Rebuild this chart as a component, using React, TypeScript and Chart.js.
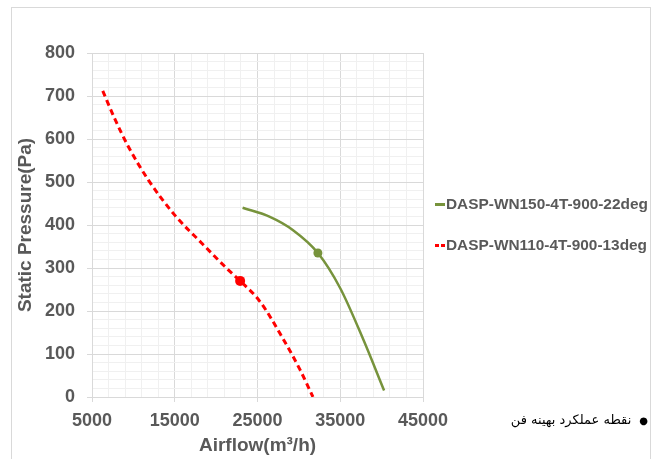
import React, { useEffect, useRef } from "react";
import { Chart, registerables } from "chart.js";

Chart.register(...registerables);

// ---- Data ----
const seriesLabels = ["DASP-WN150-4T-900-22deg", "DASP-WN110-4T-900-13deg"];

const wn150Airflow = [23200, 26500, 29300, 32300, 35000, 37800, 40300];
const wn150Pressure = [440, 419, 388, 335, 253, 133, 15];
const wn150OptimalIndex = 3;

const wn110Airflow = [6300, 7800, 9400, 11800, 15000, 18300, 21500, 22900, 25300, 28100, 30150, 31700];
const wn110Pressure = [712, 645, 582, 505, 423, 357, 295, 270, 222, 135, 63, 0];
const wn110OptimalIndex = 7;

const xTickLabels = [5000, 15000, 25000, 35000, 45000];
const yTickLabels = [0, 100, 200, 300, 400, 500, 600, 700, 800];

const xTitle = "Airflow(m³/h)";
const yTitle = "Static Pressure(Pa)";
const noteText = "نقطه عملکرد بهینه فن";

// ---- Styles ----
const GREEN = "#77933c";
const RED = "#ff0000";
const TEXT = "#595959";
const MAJOR = "#d9d9d9";
const MINOR = "#f0f0f0";
const FONT = "'Liberation Sans', Arial, sans-serif";

const toPoints = (xs: number[], ys: number[]) => xs.map((x, i) => ({ x, y: ys[i] }));
const radii = (n: number, idx: number, r: number) => Array.from({ length: n }, (_, i) => (i === idx ? r : 0));

const sideLegend = {
  id: "sideLegend",
  afterDraw(chart: any) {
    const { ctx, chartArea } = chart;
    const mid = (chartArea.top + chartArea.bottom) / 2;
    const dashes: number[][] = [[], [4, 2]];
    ctx.save();
    chart.data.datasets.forEach((ds: any, i: number) => {
      const y = mid - 20.5 + i * 41;
      const x0 = chartArea.right + 12;
      ctx.beginPath();
      ctx.setLineDash(dashes[i]);
      ctx.lineWidth = 3;
      ctx.strokeStyle = ds.borderColor;
      ctx.moveTo(x0, y);
      ctx.lineTo(x0 + 10, y);
      ctx.stroke();
      ctx.setLineDash([]);
      ctx.fillStyle = TEXT;
      ctx.font = `bold 15.4px ${FONT}`;
      ctx.textBaseline = "middle";
      ctx.textAlign = "left";
      ctx.fillText(ds.label, x0 + 11, y);
    });
    ctx.restore();
  },
};

export default function App() {
  const ref = useRef<HTMLCanvasElement | null>(null);

  useEffect(() => {
    if (!ref.current) return;
    const chart = new Chart(ref.current, {
      type: "scatter",
      data: {
        datasets: [
          {
            label: seriesLabels[0],
            data: toPoints(wn150Airflow, wn150Pressure),
            showLine: true,
            borderColor: GREEN,
            backgroundColor: GREEN,
            borderWidth: 2.5,
            cubicInterpolationMode: "monotone",
            pointRadius: radii(wn150Airflow.length, wn150OptimalIndex, 4.5),
            pointBorderWidth: 0,
            pointBackgroundColor: GREEN,
          },
          {
            label: seriesLabels[1],
            data: toPoints(wn110Airflow, wn110Pressure),
            showLine: true,
            borderColor: RED,
            backgroundColor: RED,
            borderWidth: 3,
            borderDash: [6, 4],
            cubicInterpolationMode: "monotone",
            pointRadius: radii(wn110Airflow.length, wn110OptimalIndex, 5),
            pointBorderWidth: 0,
            pointBackgroundColor: RED,
          },
        ],
      },
      options: {
        responsive: false,
        animation: false,
        events: [],
        layout: { padding: { top: 53, right: 231, bottom: 0, left: 0 } },
        plugins: { legend: { display: false }, tooltip: { enabled: false } },
        scales: {
          x: {
            type: "linear",
            min: 5000,
            max: 45000,
            afterFit: (s: any) => {
              s.height = 62;
            },
            ticks: {
              stepSize: 2000,
              autoSkip: false,
              maxRotation: 0,
              minRotation: 0,
              padding: 8,
              color: TEXT,
              font: { family: FONT, size: 18, weight: "bold" },
              callback: (v: any) => (xTickLabels.includes(Number(v)) ? String(v) : ""),
            },
            grid: {
              tickLength: 5,
              color: (c: any) => (c.tick && xTickLabels.includes(c.tick.value) ? MAJOR : MINOR),
              tickColor: (c: any) => (c.tick && xTickLabels.includes(c.tick.value) ? MAJOR : "rgba(0,0,0,0)"),
            },
            border: { color: MAJOR },
            title: {
              display: true,
              text: xTitle,
              color: TEXT,
              font: { family: FONT, size: 19, weight: "bold" },
              padding: { top: 0, bottom: 2 },
            },
          },
          y: {
            type: "linear",
            min: 0,
            max: 800,
            afterFit: (s: any) => {
              s.width = 92;
            },
            ticks: {
              stepSize: 20,
              autoSkip: false,
              padding: 12,
              color: TEXT,
              font: { family: FONT, size: 18, weight: "bold" },
              callback: (v: any) => (yTickLabels.includes(Number(v)) ? String(v) : ""),
            },
            grid: {
              tickLength: 5,
              color: (c: any) => (c.tick && yTickLabels.includes(c.tick.value) ? MAJOR : MINOR),
              tickColor: (c: any) => (c.tick && yTickLabels.includes(c.tick.value) ? MAJOR : "rgba(0,0,0,0)"),
            },
            border: { color: MAJOR },
            title: {
              display: true,
              text: yTitle,
              color: TEXT,
              font: { family: FONT, size: 19, weight: "bold" },
              padding: { top: 14, bottom: 0 },
            },
          },
        },
      },
      plugins: [sideLegend],
    } as any);
    return () => chart.destroy();
  }, []);

  return (
    <div
      style={{
        position: "fixed",
        left: 0,
        top: 0,
        width: 654,
        height: 459,
        overflow: "hidden",
        background: "#fff",
      }}
    >
      <div
        style={{
          position: "absolute",
          left: 11,
          top: 7,
          width: 640,
          height: 480,
          border: "1px solid #d9d9d9",
          boxSizing: "border-box",
        }}
      />
      <canvas ref={ref} width={654} height={459} style={{ position: "absolute", left: 0, top: 0 }} />
      <div
        dir="rtl"
        style={{
          position: "absolute",
          right: 6,
          top: 410,
          lineHeight: "20px",
          fontFamily: "'DejaVu Sans', sans-serif",
          fontSize: 13,
          color: "#000",
          whiteSpace: "nowrap",
        }}
      >
        <span style={{ fontSize: 10, marginLeft: 8 }}>●</span>
        <span>{noteText}</span>
      </div>
    </div>
  );
}
